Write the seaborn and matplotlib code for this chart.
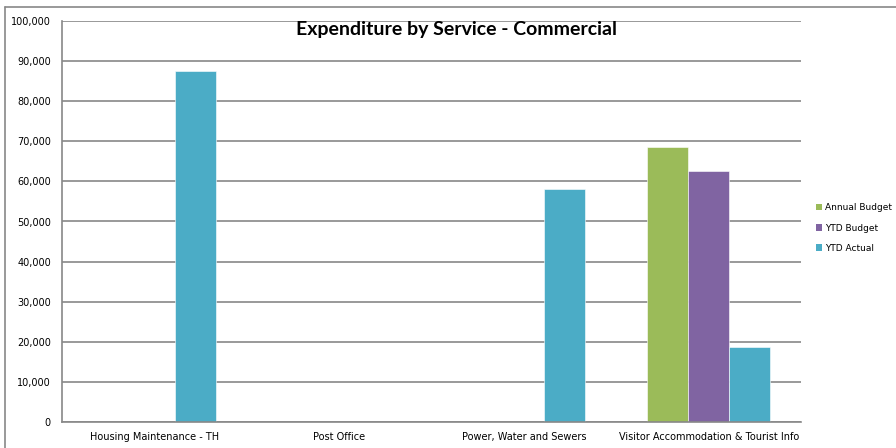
import matplotlib
matplotlib.use("Agg")
import matplotlib.pyplot as plt
import seaborn as sns
import pandas as pd
from matplotlib.patches import Patch
from matplotlib.lines import Line2D

categories = ["Housing Maintenance - TH", "Post Office", "Power, Water and Sewers",
              "Visitor Accommodation & Tourist Info"]
series = ["Annual Budget", "YTD Budget", "YTD Actual"]
annual_budget = [0, 0, 0, 68600]
ytd_budget = [0, 0, 0, 62700]
ytd_actual = [87500, 0, 58100, 18700]
yticks = [0, 10000, 20000, 30000, 40000, 50000, 60000, 70000, 80000, 90000, 100000]
colors = ["#9BBB59", "#8064A2", "#4BACC6"]

rows = []
for s, vals in zip(series, [annual_budget, ytd_budget, ytd_actual]):
    for c, v in zip(categories, vals):
        rows.append({"Service": c, "Series": s, "Value": v})
df = pd.DataFrame(rows)

sns.set_style("white")
plt.rcParams["font.family"] = ["DejaVu Sans"]
plt.rcParams["text.color"] = "black"
plt.rcParams["xtick.labelcolor"] = "black"
plt.rcParams["ytick.labelcolor"] = "black"

fig = plt.figure(figsize=(8.96, 4.48), dpi=100)
ax = fig.add_axes([62/896, 26/448, 739/896, 401/448])

sns.barplot(data=df, x="Service", y="Value", hue="Series", order=categories,
            hue_order=series, palette=colors, saturation=1, width=0.667, ax=ax,
            edgecolor="white", linewidth=0.4, legend=False, errorbar=None)
for p in ax.patches:
    if p.get_height() == 0:
        p.set_visible(False)

ax.set_ylim(0, 100000)
ax.set_xlim(-0.5, len(categories) - 0.5)
ax.set_yticks(yticks)
ax.set_yticklabels([f"{v:,}" for v in yticks], fontsize=7, color="black")
ax.yaxis.grid(True, color="#888888", linewidth=1.2)
ax.set_axisbelow(True)
ax.set_xlabel("")
ax.set_ylabel("")
ax.set_xticks(range(len(categories)))
ax.set_xticklabels(categories, fontsize=7, color="black")
ax.tick_params(axis="x", which="major", length=0, pad=7)
ax.set_xticks([i - 0.5 for i in range(len(categories) + 1)], minor=True)
ax.tick_params(axis="x", which="minor", length=4, color="#888888", width=1.2, direction="out")
ax.tick_params(axis="y", length=4, color="#888888", width=1.2, direction="out", pad=4)
for s in ["top", "right"]:
    ax.spines[s].set_visible(False)
for s in ["left", "bottom"]:
    ax.spines[s].set_color("#888888")
    ax.spines[s].set_linewidth(1.2)

fig.text(456/896, 1 - 30/448, "Expenditure by Service - Commercial", ha="center", va="center",
         fontsize=14, fontweight="bold", color="black", family=["Lato", "DejaVu Sans"])

handles = [Patch(facecolor=c, edgecolor="none") for c in colors]
fig.legend(handles, series, loc="center left", bbox_to_anchor=(812/896, 1 - 228/448),
           frameon=False, fontsize=6.5, handlelength=0.75, handleheight=0.75,
           handletextpad=0.3, labelspacing=1.25, borderaxespad=0, labelcolor="black")

# outer chart frame (top and left edges)
fig.add_artist(Line2D([5/896, 1], [1 - 7/448, 1 - 7/448], transform=fig.transFigure,
                      color="#888888", linewidth=1.2))
fig.add_artist(Line2D([5/896, 5/896], [0, 1 - 7/448], transform=fig.transFigure,
                      color="#888888", linewidth=1.2))

fig.savefig("out.png", dpi=100, facecolor="white")
